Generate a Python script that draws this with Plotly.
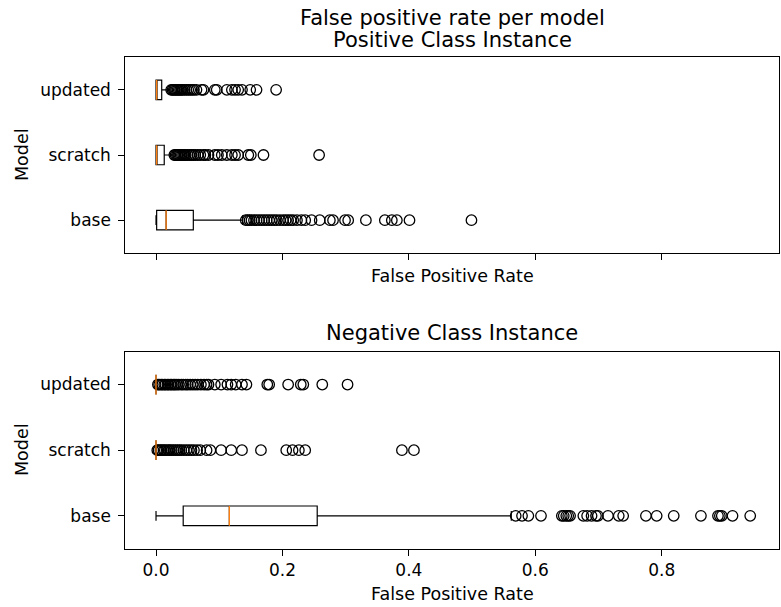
import plotly.graph_objects as go

W, H = 781, 607

models = ["base", "scratch", "updated"]
tick_vals_x = [0.0, 0.2, 0.4, 0.6, 0.8]
tick_text_x = ["0.0", "0.2", "0.4", "0.6", "0.8"]

# ---- Positive class instance: box stats [base, scratch, updated]
pos_lower = [0.0, 0.0, 0.0]
pos_q1 = [0.001, 0.0, 0.0]
pos_median = [0.016, 0.001, 0.001]
pos_q3 = [0.059, 0.013, 0.009]
pos_upper = [0.137, 0.027, 0.022]

pos_out_base = [0.142, 0.145, 0.148, 0.151, 0.155, 0.159, 0.163, 0.167, 0.171, 0.175,
                0.179, 0.183, 0.187, 0.191, 0.196, 0.201, 0.205, 0.209, 0.213, 0.217,
                0.223, 0.230, 0.236, 0.246, 0.259, 0.275, 0.280, 0.299, 0.304, 0.332,
                0.362, 0.373, 0.381, 0.401, 0.499]
pos_out_scratch = [0.029, 0.031, 0.033, 0.035, 0.037, 0.039, 0.041, 0.043, 0.045, 0.047,
                   0.050, 0.053, 0.056, 0.059, 0.062, 0.066, 0.070, 0.075, 0.078, 0.083,
                   0.093, 0.098, 0.104, 0.112, 0.120, 0.125, 0.130, 0.146, 0.150, 0.170,
                   0.258]
pos_out_updated = [0.024, 0.026, 0.028, 0.030, 0.032, 0.034, 0.036, 0.038, 0.040, 0.042,
                   0.045, 0.048, 0.051, 0.054, 0.057, 0.060, 0.064, 0.072, 0.075, 0.093,
                   0.096, 0.112, 0.120, 0.125, 0.130, 0.136, 0.149, 0.159, 0.190]

# ---- Negative class instance
neg_lower = [0.0, 0.0, 0.0]
neg_q1 = [0.043, 0.0, 0.0]
neg_median = [0.116, 0.0, 0.0]
neg_q3 = [0.255, 0.0, 0.0]
neg_upper = [0.562, 0.0, 0.0]

neg_out_base = [0.569, 0.579, 0.589, 0.609, 0.642, 0.645, 0.649, 0.652, 0.655, 0.676,
                0.682, 0.689, 0.696, 0.699, 0.715, 0.732, 0.739, 0.775, 0.792, 0.819,
                0.862, 0.889, 0.892, 0.895, 0.912, 0.940]
neg_out_scratch = [0.002, 0.004, 0.007, 0.009, 0.012, 0.014, 0.017, 0.020, 0.022, 0.025,
                   0.028, 0.031, 0.034, 0.037, 0.040, 0.044, 0.048, 0.052, 0.056, 0.060,
                   0.065, 0.070, 0.080, 0.086, 0.103, 0.119, 0.136, 0.166, 0.206, 0.216,
                   0.226, 0.236, 0.389, 0.408]
neg_out_updated = [0.003, 0.005, 0.008, 0.010, 0.013, 0.015, 0.018, 0.020, 0.023, 0.025,
                   0.028, 0.030, 0.033, 0.036, 0.040, 0.043, 0.047, 0.050, 0.054, 0.058,
                   0.062, 0.066, 0.071, 0.076, 0.080, 0.083, 0.093, 0.103, 0.113, 0.119,
                   0.126, 0.136, 0.143, 0.176, 0.179, 0.209, 0.229, 0.233, 0.263, 0.303]

BOX_W = 0.3
FONT = "DejaVu Sans"
MEDIAN_COLOR = "#ff7f0e"

fig = go.Figure()


def add_panel(xa, ya, lower, q1, med, q3, upper, outliers):
    for i, name in enumerate(models):
        pos = i + 1
        fig.add_trace(go.Box(
            y=[pos], q1=[q1[i]], median=[med[i]], q3=[q3[i]],
            lowerfence=[lower[i]], upperfence=[upper[i]],
            orientation="h", width=BOX_W, whiskerwidth=0.5,
            fillcolor="rgba(0,0,0,0)", line=dict(color="black", width=1.2),
            boxpoints=False, xaxis=xa, yaxis=ya, showlegend=False, hoverinfo="skip"))
        fig.add_trace(go.Scatter(
            x=outliers[i], y=[pos] * len(outliers[i]), mode="markers",
            marker=dict(symbol="circle-open", color="black", size=10.5,
                        line=dict(width=1.3, color="black")),
            xaxis=xa, yaxis=ya, showlegend=False, hoverinfo="skip"))
        fig.add_trace(go.Scatter(
            x=[med[i], med[i]], y=[pos - BOX_W / 2, pos + BOX_W / 2], mode="lines",
            line=dict(color=MEDIAN_COLOR, width=1.3),
            xaxis=xa, yaxis=ya, showlegend=False, hoverinfo="skip"))


add_panel("x", "y", pos_lower, pos_q1, pos_median, pos_q3, pos_upper,
          [pos_out_base, pos_out_scratch, pos_out_updated])
add_panel("x2", "y2", neg_lower, neg_q1, neg_median, neg_q3, neg_upper,
          [neg_out_base, neg_out_scratch, neg_out_updated])

xl, xr = 125.3 / W, 779.3 / W
top_dom = [1 - 252.7 / H, 1 - 57.3 / H]
bot_dom = [1 - 548.7 / H, 1 - 351.7 / H]
xrange_ = [-0.0486, 0.986]

axis_common = dict(showline=True, linecolor="black", linewidth=1, mirror=True,
                   ticks="outside", ticklen=6, tickwidth=1, tickcolor="black",
                   showgrid=False, zeroline=False,
                   tickfont=dict(family=FONT, size=17, color="black"))

fig.update_layout(
    width=W, height=H, margin=dict(l=0, r=0, t=0, b=0),
    paper_bgcolor="white", plot_bgcolor="white",
    font=dict(family=FONT, color="black"),
    xaxis=dict(domain=[xl, xr], range=xrange_, anchor="y", tickvals=tick_vals_x,
               showticklabels=False, **axis_common),
    yaxis=dict(domain=top_dom, range=[0.5, 3.5], anchor="x", tickvals=[1, 2, 3],
               ticktext=models, ticklabelstandoff=4, **axis_common),
    xaxis2=dict(domain=[xl, xr], range=xrange_, anchor="y2", tickvals=tick_vals_x,
                ticktext=tick_text_x, **axis_common),
    yaxis2=dict(domain=bot_dom, range=[0.5, 3.5], anchor="x2", tickvals=[1, 2, 3],
                ticktext=models, ticklabelstandoff=4, **axis_common),
)

cx = (125.3 + 779.3) / 2 / W


def ann(text, x, y_px, size, angle=0):
    fig.add_annotation(text=text, x=x, y=1 - y_px / H, xref="paper", yref="paper",
                       showarrow=False, xanchor="center", yanchor="middle",
                       textangle=angle, font=dict(family=FONT, size=size, color="black"))


ann("False positive rate per model", cx, 18, 21)
ann("Positive Class Instance", cx, 40, 21)
ann("Negative Class Instance", cx, 333, 21)
ann("False Positive Rate", cx, 276, 17.5)
ann("False Positive Rate", cx, 594, 17.5)
ann("Model", 22 / W, 155, 17.5, -90)
ann("Model", 22 / W, 450, 17.5, -90)

fig.write_html("out.html", config={"displayModeBar": False},
               post_script="document.body.style.margin='0';document.body.style.overflow='hidden';")
